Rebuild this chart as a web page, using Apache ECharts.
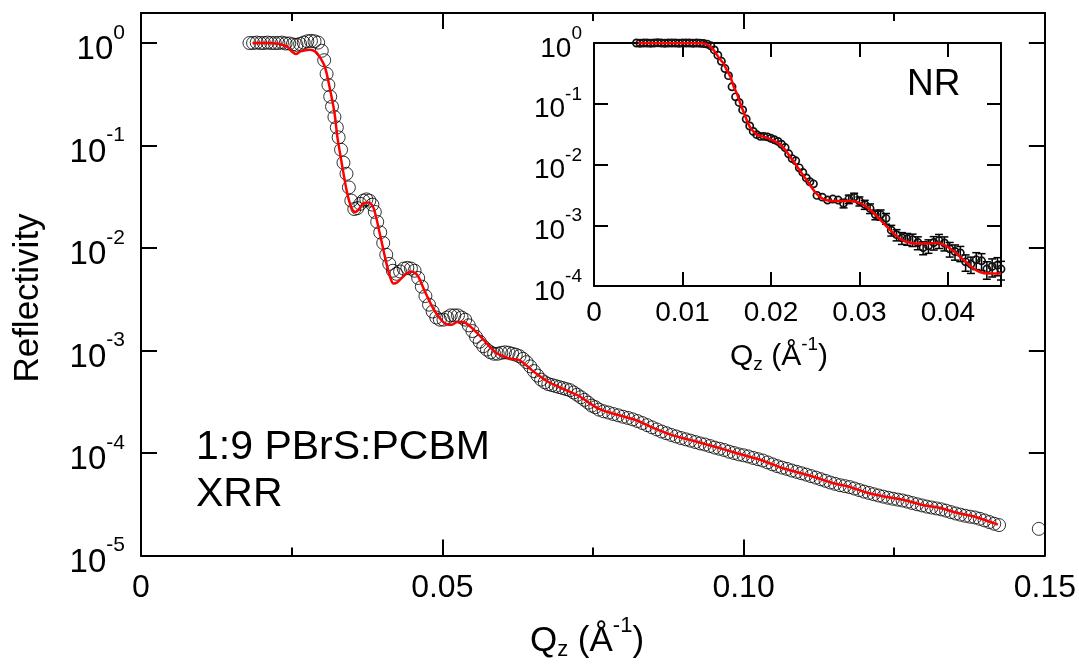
<!DOCTYPE html>
<html><head><meta charset="utf-8">
<script src="https://cdn.jsdelivr.net/npm/echarts@6/dist/echarts.min.js"></script>
<style>html,body{margin:0;padding:0;background:#fff}#c{width:1079px;height:666px}</style>
</head><body><div id="c"></div>
<script>
// ---------- DATA ----------
// Main XRR measurement (Qz in 1/Å, reflectivity)
const xrrQ = [0.0180,0.0186,0.0192,0.0198,0.0204,0.0210,0.0216,0.0222,0.0228,0.0234,0.0240,0.0246,0.0252,0.0258,0.0264,0.0270,0.0276,0.0282,0.0288,0.0294,
0.0300,0.0304,0.0308,0.0311,0.0314,0.0317,0.0321,0.0325,0.0328,0.0332,0.0336,0.0341,0.0345,0.0349,0.0354,0.0359,0.0364,0.0369,0.0374,0.0379,
0.0384,0.0388,0.0392,0.0397,0.0402,0.0407,0.0412,0.0418,0.0424,0.0430,0.0436,0.0442,0.0448,0.0454,0.0460,0.0466,0.0472,0.0478,0.0484,0.0490,
0.0496,0.0502,0.0508,0.0514,0.0520,0.0526,0.0532,0.0538,0.0544,0.0550,0.0556,0.0562,0.0568,0.0574,0.0580,0.0586,0.0592,0.0598,0.0604,0.0610,
0.0616,0.0622,0.0628,0.0634,0.0640,0.0646,0.0652,0.0658,0.0664,0.0670,0.0676,0.0682,0.0688,0.0694,0.0700,0.0706,0.0712,0.0718,0.0724,0.0730,
0.0736,0.0742,0.0748,0.0754,0.0760,0.0768,0.0776,0.0784,0.0792,0.0800,0.0808,0.0816,0.0824,0.0832,0.0840,0.0848,0.0856,0.0864,0.0872,0.0880,
0.0888,0.0896,0.0904,0.0912,0.0920,0.0928,0.0936,0.0944,0.0952,0.0960,0.0968,0.0976,0.0984,0.0992,0.1000,0.1008,0.1016,0.1024,0.1032,0.1040,
0.1048,0.1056,0.1064,0.1072,0.1080,0.1088,0.1096,0.1104,0.1112,0.1120,0.1128,0.1136,0.1144,0.1152,0.1160,0.1168,0.1176,0.1184,0.1192,0.1200,
0.1208,0.1216,0.1224,0.1232,0.1240,0.1248,0.1256,0.1264,0.1272,0.1280,0.1288,0.1296,0.1304,0.1312,0.1320,0.1328,0.1336,0.1344,0.1352,0.1360,
0.1368,0.1376,0.1384,0.1392,0.1400,0.1408,0.1416,0.1424,0.1490];
const xrrR = [1.00,1.00,1.01,1.00,1.00,1.01,1.00,1.00,1.00,1.01,0.99,0.99,0.97,0.96,0.98,1.01,1.04,1.05,1.04,1.01,
0.84,0.68,0.50,0.39,0.30,0.24,0.19,0.15,0.12,0.091,0.068,0.053,0.039,0.029,0.0240,0.0245,0.0270,0.0290,0.0298,0.0290,
0.0265,0.0225,0.0180,0.0142,0.0112,0.0086,0.0070,0.0060,0.0056,0.0059,0.0063,0.0064,0.0063,0.0060,0.0051,0.0042,0.0034,0.0028,0.0024,0.0021,
0.0020,0.0020,0.0021,0.0022,0.0022,0.0022,0.0021,0.0020,0.00176,0.00155,0.00136,0.00122,0.00110,0.00102,0.00096,0.00093,0.00093,0.00095,0.00096,0.00095,
0.00093,0.00091,0.00088,0.00083,0.00077,0.00070,0.00063,0.00057,0.00052,0.00049,0.00047,0.00046,0.00045,0.00044,0.00043,0.00042,0.00041,0.00039,0.00037,0.00035,
0.00033,0.00031,0.00029,0.00028,0.000265,0.000255,0.000248,0.000240,0.000233,0.000226,0.000220,0.000213,0.000205,0.000196,0.000187,0.000178,0.000170,0.000162,0.000156,0.000150,
0.000145,0.000140,0.000136,0.000132,0.000128,0.000124,0.000121,0.000117,0.000113,0.000110,0.000107,0.000103,0.000100,0.000097,0.0000950,0.0000925,0.0000895,0.0000870,0.0000845,0.0000810,
0.0000775,0.0000745,0.0000720,0.0000700,0.0000675,0.0000655,0.0000635,0.0000615,0.0000595,0.0000575,0.0000555,0.0000535,0.0000515,0.0000500,0.0000485,0.0000475,0.0000465,0.0000450,0.0000435,0.0000420,
0.0000408,0.0000396,0.0000385,0.0000375,0.0000366,0.0000358,0.0000351,0.0000344,0.0000335,0.0000325,0.0000316,0.0000308,0.0000300,0.0000294,0.0000288,0.0000282,0.0000274,0.0000265,0.0000257,0.0000250,
0.0000244,0.0000239,0.0000235,0.0000228,0.0000220,0.0000212,0.0000204,0.0000198,0.0000182];

// XRR model fit
const xrrFitQ = [0.0185,0.0214,0.0242,0.0250,0.0257,0.0265,0.0280,0.0290,0.0296,0.0305,0.0313,0.0321,0.0326,0.0333,0.0341,0.0346,0.0351,0.0356,0.0363,0.0370,
0.0378,0.0386,0.0396,0.0407,0.0414,0.0419,0.0425,0.0437,0.0449,0.0459,0.0470,0.0483,0.0495,0.0507,0.0515,0.0525,0.0535,0.0545,0.0556,0.0573,
0.0589,0.0603,0.0614,0.0627,0.0639,0.0649,0.0664,0.0677,0.0694,0.0710,0.0727,0.0743,0.0760,0.0790,0.0820,0.0849,0.0879,0.0909,0.0939,0.0969,
0.0998,0.1028,0.1058,0.1086,0.1116,0.1146,0.1175,0.1205,0.1235,0.1265,0.1295,0.1325,0.1354,0.1384,0.1422];
const xrrFitR = [1.00,1.00,0.93,0.83,0.78,0.83,0.86,0.82,0.74,0.59,0.37,0.21,0.12,0.068,0.037,0.028,0.0235,0.0225,0.0245,0.0276,
0.0278,0.0245,0.0141,0.0072,0.0051,0.0045,0.0046,0.0054,0.0059,0.0054,0.0039,0.0027,0.0021,0.0018,0.00178,0.0019,0.0019,0.00174,0.00152,0.00119,
0.00095,0.00087,0.00083,0.00081,0.00072,0.00064,0.00055,0.00049,0.00044,0.00040,0.00036,0.00031,0.00027,0.000236,0.000211,0.000177,0.000151,0.000135,0.000121,0.000108,
0.0000960,0.0000860,0.0000735,0.0000657,0.0000587,0.0000513,0.0000469,0.0000410,0.0000375,0.0000350,0.0000313,0.0000292,0.0000261,0.0000239,0.0000200];

// Inset NR measurement (Qz, reflectivity, relative error)
const nrQ = [0.0048,0.0052,0.0056,0.0060,0.0064,0.0068,0.0072,0.0076,0.0080,0.0084,0.0088,0.0092,0.0096,0.0100,0.0104,0.0108,0.0112,0.0116,0.0120,0.0124,
0.0128,0.0132,0.0136,0.0140,0.0144,0.0148,0.0152,0.0156,0.0160,0.0164,0.0168,0.0172,0.0176,0.0180,0.0184,0.0188,0.0192,0.0196,0.0200,0.0204,
0.0208,0.0212,0.0216,0.0220,0.0224,0.0228,0.0232,0.0236,0.0240,0.0244,0.0248,0.0252,0.0258,0.0264,0.0270,0.0276,0.0282,0.0288,0.0294,0.0300,
0.0306,0.0312,0.0318,0.0324,0.0330,0.0336,0.0342,0.0348,0.0354,0.0360,0.0366,0.0372,0.0378,0.0384,0.0390,0.0396,0.0402,0.0408,0.0414,0.0420,
0.0426,0.0432,0.0438,0.0444,0.0450,0.0456,0.0460];
const nrR = [1.00,0.99,1.00,1.00,0.99,1.00,1.01,1.00,0.99,1.00,1.00,1.00,0.99,1.00,1.00,1.00,0.99,1.00,0.99,0.98,
0.96,0.90,0.77,0.63,0.50,0.38,0.29,0.19,0.13,0.105,0.079,0.056,0.043,0.035,0.031,0.029,0.0290,0.0285,0.0270,0.0255,
0.0240,0.0215,0.0190,0.0150,0.0125,0.0115,0.0088,0.0074,0.0060,0.0052,0.0048,0.0031,0.0029,0.0026,0.0027,0.0026,0.0023,0.0027,0.0029,0.0025,
0.0022,0.0019,0.0015,0.0015,0.0013,0.00083,0.00070,0.00062,0.00060,0.00058,0.00052,0.00043,0.00046,0.00052,0.00056,0.00051,0.00041,0.00037,0.00035,0.00025,
0.00023,0.00027,0.00026,0.00019,0.00021,0.00022,0.00019];
const nrErr = [0.02,0.02,0.02,0.02,0.02,0.02,0.02,0.02,0.02,0.02,0.02,0.02,0.02,0.02,0.02,0.02,0.02,0.02,0.02,0.02,
0.03,0.03,0.03,0.03,0.03,0.03,0.03,0.03,0.03,0.03,0.03,0.03,0.03,0.03,0.03,0.03,0.04,0.04,0.04,0.05,
0.05,0.06,0.06,0.07,0.07,0.08,0.08,0.09,0.10,0.10,0.11,0.13,0.14,0.14,0.15,0.15,0.16,0.16,0.16,0.17,
0.17,0.18,0.18,0.19,0.20,0.20,0.21,0.22,0.22,0.23,0.24,0.24,0.25,0.25,0.26,0.26,0.27,0.28,0.28,0.30,
0.30,0.31,0.31,0.32,0.33,0.33,0.34];

// NR model fit
const nrFitQ = [0.0050,0.0080,0.0110,0.0120,0.0128,0.0135,0.0142,0.0146,0.0150,0.0154,0.0158,0.0162,0.0166,0.0170,0.0174,0.0178,0.0184,0.0190,0.0196,0.0202,
0.0208,0.0214,0.0220,0.0226,0.0232,0.0238,0.0244,0.0250,0.0256,0.0262,0.0270,0.0280,0.0290,0.0298,0.0306,0.0314,0.0322,0.0330,0.0338,0.0346,
0.0354,0.0364,0.0376,0.0388,0.0396,0.0404,0.0412,0.0420,0.0428,0.0436,0.0446,0.0460];
const nrFitR = [1.00,1.00,1.00,0.99,0.95,0.77,0.55,0.47,0.36,0.28,0.19,0.14,0.095,0.068,0.048,0.038,0.031,0.029,0.0275,0.025,
0.0225,0.019,0.0145,0.011,0.0082,0.0062,0.0046,0.0035,0.0029,0.0026,0.0025,0.0025,0.0025,0.0024,0.0021,0.0017,0.0013,0.00098,0.00075,0.00060,
0.00053,0.00050,0.00050,0.00051,0.00047,0.00040,0.00032,0.00025,0.00020,0.00017,0.00016,0.00016];

const mainXTickLabels = ['0','0.05','0.10','0.15'];
const insetXTickLabels = ['0','0.01','0.02','0.03','0.04'];

// ---------- CHART ----------
const FONT = '"Liberation Sans", Arial, Helvetica, sans-serif';
const BLACK = '#000';
const RED = '#ff0000';
const chart = echarts.init(document.getElementById('c'), null, {renderer: 'canvas'});

function zip2(a, b) { return a.map((v, i) => [v, b[i]]); }
function zip3(a, b, c) { return a.map((v, i) => [v, b[i], c[i]]); }

function powLabel(v) {
  const e = Math.log10(v), r = Math.round(e);
  if (Math.abs(e - r) > 1e-6) return '';
  return '{b|10}{s|' + r + '}';
}
function listLabel(labels, step) {
  return function (v) {
    const i = Math.round(v / step);
    if (Math.abs(v - i * step) > 1e-9 || i < 0 || i >= labels.length) return '';
    return labels[i];
  };
}
const lineStyle = {color: BLACK, width: 2};

function xAxis(grid, pos, max, interval, labels, showLabel, minor, fs, tickLen) {
  return {
    type: 'value', gridIndex: grid, position: pos, min: 0, max: max, interval: interval,
    axisLine: {show: true, onZero: false, lineStyle: lineStyle},
    axisTick: {show: true, inside: true, length: tickLen, lineStyle: lineStyle},
    minorTick: {show: minor, splitNumber: 2, length: tickLen / 2, lineStyle: lineStyle},
    splitLine: {show: false}, minorSplitLine: {show: false},
    axisLabel: {show: showLabel, margin: showLabel ? (grid === 0 ? 17 : 13) : 8, color: BLACK, fontFamily: FONT, fontSize: fs,
      formatter: listLabel(labels, interval), showMinLabel: true, showMaxLabel: true, hideOverlap: false}
  };
}
function yAxis(grid, pos, min, max, showLabel, fs, supFs, margin, tickLen, shiftDown, shiftUp) {
  return {
    type: 'log', logBase: 10, gridIndex: grid, position: pos, min: min, max: max,
    axisLine: {show: true, onZero: false, lineStyle: lineStyle},
    axisTick: {show: true, inside: true, length: tickLen, lineStyle: lineStyle},
    minorTick: {show: false}, splitLine: {show: false}, minorSplitLine: {show: false},
    axisLabel: {show: showLabel, margin: margin, color: BLACK, fontFamily: FONT, formatter: powLabel,
      showMinLabel: true, showMaxLabel: true, hideOverlap: false,
      rich: {
        b: {fontSize: fs, fontFamily: FONT, color: BLACK, padding: [shiftDown, 0, 0, 0]},
        s: {fontSize: supFs, fontFamily: FONT, color: BLACK, padding: [0, 0, shiftUp, 0]}
      }}
  };
}

const option = {
  backgroundColor: '#fff',
  animation: false,
  grid: [
    {left: 141, top: 13, width: 906, height: 542.5, containLabel: false},
    {left: 594, top: 43, width: 407, height: 243, containLabel: false}
  ],
  xAxis: [
    xAxis(0, 'bottom', 0.15, 0.05, mainXTickLabels, true, true, 32, 16),
    xAxis(0, 'top', 0.15, 0.05, mainXTickLabels, false, true, 32, 16),
    xAxis(1, 'bottom', 0.046, 0.01, insetXTickLabels, true, false, 28, 14),
    xAxis(1, 'top', 0.046, 0.01, insetXTickLabels, false, false, 28, 14)
  ],
  yAxis: [
    yAxis(0, 'left', 1e-5, Math.pow(10, 0.293), true, 33, 21, 16, 16, 14, 20),
    yAxis(0, 'right', 1e-5, Math.pow(10, 0.293), false, 33, 21, 16, 16, 14, 20),
    yAxis(1, 'left', 1e-4, 1, true, 28, 19, 12, 14, 12, 18),
    yAxis(1, 'right', 1e-4, 1, false, 28, 19, 12, 14, 12, 18)
  ],
  series: [
    {
      type: 'scatter', name: 'XRR data', xAxisIndex: 0, yAxisIndex: 0,
      data: zip2(xrrQ, xrrR), symbol: 'circle', symbolSize: 13, z: 2,
      itemStyle: {color: 'rgba(0,0,0,0)', borderColor: BLACK, borderWidth: 1}
    },
    {
      type: 'line', name: 'XRR fit', xAxisIndex: 0, yAxisIndex: 0,
      data: zip2(xrrFitQ, xrrFitR), showSymbol: false, smooth: 0.3, z: 4,
      lineStyle: {color: RED, width: 2.5}
    },
    {
      type: 'custom', name: 'NR data', xAxisIndex: 2, yAxisIndex: 2, z: 3,
      data: zip3(nrQ, nrR, nrErr), encode: {x: 0, y: 1},
      renderItem: function (params, api) {
        const q = api.value(0), r = api.value(1), e = api.value(2);
        const p = api.coord([q, r]);
        const hi = api.coord([q, r * (1 + e)]);
        const lo = api.coord([q, r * (1 - e)]);
        const children = [];
        const st = {stroke: BLACK, lineWidth: 1.5, fill: null};
        if (lo[1] - hi[1] > 8) {
          children.push({type: 'line', shape: {x1: p[0], y1: hi[1], x2: p[0], y2: lo[1]}, style: st});
          children.push({type: 'line', shape: {x1: p[0] - 4, y1: hi[1], x2: p[0] + 4, y2: hi[1]}, style: st});
          children.push({type: 'line', shape: {x1: p[0] - 4, y1: lo[1], x2: p[0] + 4, y2: lo[1]}, style: st});
        }
        children.push({type: 'circle', shape: {cx: p[0], cy: p[1], r: 3.6}, style: {stroke: '#111', lineWidth: 1.7, fill: 'rgba(0,0,0,0)'}});
        return {type: 'group', children: children};
      }
    },
    {
      type: 'line', name: 'NR fit', xAxisIndex: 2, yAxisIndex: 2,
      data: zip2(nrFitQ, nrFitR), showSymbol: false, smooth: 0.3, z: 5,
      lineStyle: {color: RED, width: 2.5}
    }
  ],
  graphic: [
    {type: 'text', x: 28, y: 298, rotation: Math.PI / 2, z: 10,
      style: {text: 'Reflectivity', font: '35px ' + FONT, fill: BLACK, align: 'center', verticalAlign: 'middle'}},
    {type: 'text', x: 587, y: 641, z: 10,
      style: {text: '{n|Q}{sub|z}{n| (Å}{sup|-1}{n|)}', align: 'center', verticalAlign: 'middle', fill: BLACK,
        rich: {
          n: {fontSize: 35, fontFamily: FONT, fill: BLACK},
          sub: {fontSize: 22, fontFamily: FONT, fill: BLACK, padding: [18, 0, 0, 0]},
          sup: {fontSize: 22, fontFamily: FONT, fill: BLACK, padding: [0, 0, 30, 0]}
        }}},
    {type: 'text', x: 779, y: 357, z: 10,
      style: {text: '{n|Q}{sub|z}{n| (Å}{sup|-1}{n|)}', align: 'center', verticalAlign: 'middle', fill: BLACK,
        rich: {
          n: {fontSize: 30, fontFamily: FONT, fill: BLACK},
          sub: {fontSize: 19, fontFamily: FONT, fill: BLACK, padding: [16, 0, 0, 0]},
          sup: {fontSize: 19, fontFamily: FONT, fill: BLACK, padding: [0, 0, 24, 0]}
        }}},
    {type: 'text', x: 196, y: 448, z: 10,
      style: {text: '1:9 PBrS:PCBM', font: '41px ' + FONT, fill: BLACK, align: 'left', verticalAlign: 'middle'}},
    {type: 'text', x: 196, y: 495, z: 10,
      style: {text: 'XRR', font: '41px ' + FONT, fill: BLACK, align: 'left', verticalAlign: 'middle'}},
    {type: 'text', x: 907, y: 85, z: 10,
      style: {text: 'NR', font: '37px ' + FONT, fill: BLACK, align: 'left', verticalAlign: 'middle'}}
  ]
};
chart.setOption(option);
</script>
</body></html>
